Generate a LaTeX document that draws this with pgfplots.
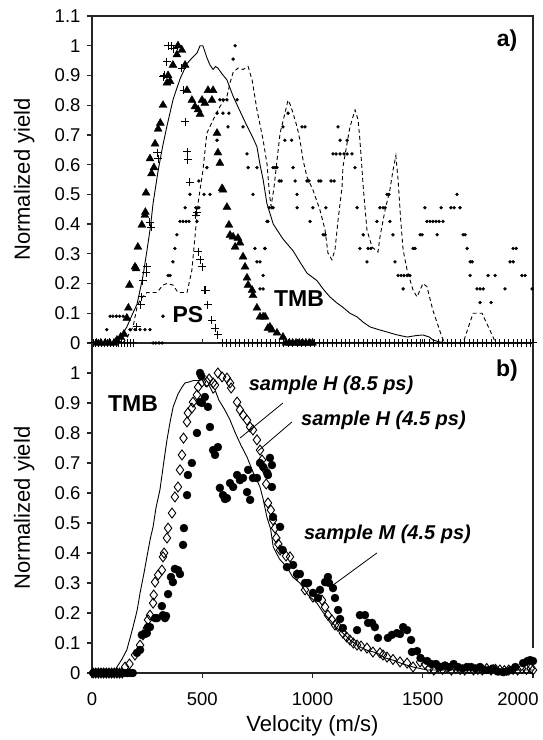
\documentclass[border=0pt]{standalone}
\usepackage{pgfplots}
\pgfplotsset{compat=1.18}
\usepackage{fontspec}
\setmainfont{Liberation Sans}

\pgfplotsset{
  base/.style={
    scale only axis, width=441pt, xmin=0, xmax=2000, ymin=0, ymax=1.1,
    clip=false,
    axis line style={line width=1.2pt, black!85},
    tick style={line width=1.2pt, black!85},
    major tick length=5pt,
    tick align=outside,
    tick label style={font=\fontsize{18.5}{20}\selectfont},
    label style={font=\fontsize{22}{24}\selectfont},
    /pgf/number format/assume math mode=true,
    ylabel={Normalized yield},
    ylabel style={at={(axis description cs:-0.154,0.5)}, anchor=center},
    yticklabel style={xshift=-3pt},
  },
  dline/.style={black, line width=0.9pt, mark=none},
}
\tikzset{
  ann/.style={font=\fontsize{20}{22}\selectfont\bfseries\itshape},
  lab/.style={font=\fontsize{23}{25}\selectfont\bfseries},
}

\begin{document}
\begin{tikzpicture}[x=1pt,y=1pt]
\useasboundingbox (0,0) rectangle (543,740);

% ---------------- top panel ----------------
\begin{axis}[base, at={(92pt,397pt)}, anchor=south west, height=327pt,
  xtick={0,500,1000,1500,2000},
  ytick={0,0.1,0.2,0.3,0.4,0.5,0.6,0.7,0.8,0.9,1,1.1},
  yticklabels={0,0.1,0.2,0.3,0.4,0.5,0.6,0.7,0.8,0.9,1,1.1},
  xticklabels={}, xtick style={draw=none}, ytick pos=left]

% small dots
\addplot[only marks, mark=*, mark size=1.5pt, black] coordinates {
(67,0.045) (82,0.09) (95,0.09) (110,0.09) (125,0.09) (141,0.09)
(172,0.045) (195,0.045) (218,0.045) (240,0.045) (263,0.045)
(277,0) (290,0) (304,0) (318,0) (322,0.09)
(345,0.227) (354,0.227) (367,0.273) (376,0.318) (385,0.364)
(399,0.409) (413,0.409) (427,0.409) (440,0.409) (476,0.409)
(422,0.455) (471,0.455) (485,0.455)
(444,0.5) (508,0.5) (535,0.5) (485,0.545) (521,0.59)
(567,0.682) (567,0.773) (594,0.773) (621,0.773)
(580,0.818) (594,0.818) (612,0.818) (617,0.727)
(640,0.955) (649,1.0) (658,0.818) (685,0.727) (703,0.636) (708,0.59) (748,0.59)
(730,0.5) (739,0.318) (785,0.318) (748,0.273) (762,0.273) (776,0.227) (762,0.182) (776,0.182)
(783,0.318) (798,0.409) (794,0.409) (803,0.455) (816,0.455) (821,0.455)
(821,0.59) (830,0.59) (839,0.59) (849,0.545) (858,0.545)
(866,0.727) (875,0.682) (905,0.682) (889,0.773) (912,0.59) (921,0.545) (930,0.5) (930,0.455)
(952,0.727) (966,0.727) (975,0.545) (984,0.545) (1029,0.545) (1038,0.545) (1084,0.545) (1098,0.545)
(989,0.409) (1002,0.455) (1061,0.455) (1048,0.364) (1057,0.364)
(1093,0.636) (1107,0.636) (1125,0.636) (1143,0.636) (1157,0.636) (1179,0.636)
(1116,0.727) (1125,0.682) (1157,0.682) (1193,0.59) (1202,0.455) (1215,0.318) (1230,0.364)
(1247,0.273) (1252,0.318) (1265,0.318) (1292,0.409)
(1306,0.455) (1320,0.455) (1329,0.455) (1338,0.5) (1347,0.5) (1351,0.409) (1365,0.364) (1374,0.273)
(1388,0.227) (1402,0.227) (1415,0.227) (1429,0.227) (1442,0.227) (1411,0.182)
(1456,0.318) (1465,0.318) (1488,0.364) (1497,0.364) (1510,0.455)
(1519,0.409) (1533,0.409) (1546,0.409) (1560,0.409) (1574,0.409) (1592,0.409)
(1565,0.364) (1583,0.455) (1628,0.455) (1642,0.455) (1655,0.5) (1669,0.455)
(1683,0.364) (1692,0.364) (1701,0.318) (1715,0.273) (1724,0.273) (1715,0.227)
(1746,0.182) (1760,0.182) (1774,0.182) (1760,0.136) (1796,0.227) (1828,0.227) (1810,0.136)
(1873,0.182) (1896,0.273) (1910,0.273) (1910,0.318) (1924,0.318) (1950,0.227) (1964,0.227) (1996,0.182)
};

% plus signs (PS)
\addplot[only marks, mark=+, mark size=4pt, black, line width=1pt] coordinates {
(5,0) (18,0) (31,0) (44,0) (57,0) (70,0) (83,0) (96,0) (109,0) (122,0) (135,0) (148,0) (161,0) (174,0) (187,0)
(204,0.054) (222,0.128) (226,0.155) (231,0.21) (245,0.236) (249,0.256) (263,0.407) (268,0.39)
(295,0.64) (300,0.62) (322,0.895) (327,0.9) (340,0.946) (346,1.0) (360,1.0) (368,0.99) (390,1.0)
(408,0.925) (415,0.85) (422,0.745) (431,0.643) (435,0.616) (444,0.54) (471,0.43) (476,0.44)
(481,0.307) (490,0.28) (499,0.256) (512,0.178) (517,0.178) (526,0.128) (544,0.077) (558,0.05) (571,0.027)
(590,0) (610,0) (630,0) (650,0) (670,0) (690,0) (710,0) (730,0) (750,0) (770,0) (790,0) (810,0)
(830,0) (850,0) (870,0) (890,0) (910,0) (930,0) (950,0) (970,0) (990,0) (1010,0) (1030,0) (1050,0)
(1070,0) (1090,0) (1110,0) (1130,0) (1150,0) (1170,0) (1190,0) (1210,0) (1230,0) (1250,0) (1270,0)
(1290,0) (1310,0) (1330,0) (1350,0) (1370,0) (1390,0) (1410,0) (1430,0) (1450,0) (1470,0) (1490,0)
(1510,0) (1530,0) (1550,0) (1570,0) (1590,0) (1610,0) (1630,0) (1650,0) (1670,0) (1690,0) (1710,0)
(1730,0) (1750,0) (1770,0) (1790,0) (1810,0) (1830,0) (1850,0) (1870,0) (1890,0) (1910,0) (1930,0)
(1950,0) (1970,0) (1990,0) (2000,0)
};

% filled triangles
\addplot[only marks, mark=triangle*, mark size=4.6pt, black] coordinates {
(20,0) (40,0) (60,0) (80,0) (100,0) (113,0.01) (130,0.02) (145,0.03)
(158,0.084) (165,0.118) (170,0.195) (195,0.256) (200,0.25) (208,0.323) (226,0.397) (240,0.43) (242,0.44)
(245,0.505) (263,0.62) (270,0.57) (281,0.59) (286,0.67) (300,0.72) (310,0.74) (322,0.80)
(340,0.875) (345,0.9) (354,0.88) (367,0.935) (385,0.97) (390,1.0) (408,0.985) (422,0.935)
(431,0.85) (453,0.817) (467,0.795) (481,0.785) (490,0.77) (499,0.817) (512,0.807) (526,0.85)
(544,0.817) (549,0.85) (567,0.706) (571,0.64) (580,0.605) (590,0.52) (594,0.515) (612,0.457)
(621,0.397) (626,0.363) (640,0.357) (649,0.323) (662,0.353) (671,0.337) (685,0.29) (694,0.256)
(703,0.219) (708,0.195) (726,0.178) (730,0.16) (748,0.118) (762,0.088) (776,0.088) (785,0.088)
(798,0.05) (807,0.054) (816,0.044) (839,0.034) (866,0.02)
(880,0) (895,0) (910,0) (925,0) (940,0) (955,0) (970,0) (985,0) (1000,0)
};

% TMB solid line
\addplot[dline] coordinates {
(90,0) (130,0.02) (158,0.054) (185,0.10) (204,0.13) (230,0.22) (249,0.31) (265,0.39) (277,0.47)
(300,0.58) (320,0.66) (340,0.73) (368,0.82) (400,0.89) (431,0.94) (455,0.96) (476,0.975)
(490,1.0) (503,1.0) (521,0.96) (535,0.935) (549,0.92) (560,0.93) (571,0.925) (590,0.905)
(612,0.885) (640,0.83) (671,0.78) (703,0.73) (730,0.69) (748,0.66) (762,0.60) (776,0.55)
(793,0.47) (822,0.40) (866,0.35) (912,0.31) (945,0.27) (975,0.235) (1020,0.21) (1050,0.18)
(1079,0.155) (1110,0.135) (1138,0.12) (1170,0.10) (1202,0.088) (1230,0.07) (1261,0.054)
(1300,0.045) (1338,0.037) (1380,0.028) (1429,0.02) (1470,0.025) (1501,0.027) (1530,0.02)
(1546,0.01) (1580,0.003) (1650,0) (2000,0)
};

% dashed line
\addplot[dline, dash pattern=on 4pt off 3pt] coordinates {
(140,0) (160,0.02) (186,0.054) (204,0.12) (218,0.145) (249,0.17) (295,0.17) (322,0.195)
(340,0.2) (367,0.195) (390,0.17) (431,0.17) (453,0.245) (467,0.357) (481,0.47) (490,0.515)
(503,0.58) (521,0.706) (549,0.75) (580,0.795) (612,0.83) (626,0.875) (640,0.91) (662,0.925)
(685,0.92) (708,0.93) (726,0.885) (748,0.785) (776,0.683) (794,0.60) (805,0.5) (812,0.46)
(825,0.52) (839,0.615) (853,0.706) (875,0.773) (889,0.817) (900,0.80) (912,0.773) (930,0.727)
(943,0.683) (957,0.616) (975,0.558) (1002,0.515) (1034,0.447) (1057,0.38) (1070,0.303)
(1088,0.28) (1102,0.313) (1116,0.414) (1134,0.525) (1138,0.592) (1157,0.673) (1170,0.727)
(1193,0.784) (1207,0.75) (1215,0.683) (1224,0.59) (1230,0.525) (1247,0.38) (1270,0.323)
(1297,0.306) (1306,0.357) (1329,0.447) (1351,0.515) (1365,0.58) (1378,0.63) (1388,0.55)
(1400,0.414) (1411,0.313) (1429,0.245) (1456,0.178) (1474,0.155) (1501,0.2) (1519,0.19)
(1546,0.11) (1587,0.02) (1600,0) (1683,0) (1728,0.1) (1769,0.1) (1819,0.02) (1830,0) (2000,0)
};

% inward x ticks of the top panel
\pgfplotsinvokeforeach{500,1000,1500}{
  \draw[line width=1.2pt, black!85] (axis cs:#1,0) -- ++(0,4pt);
}
\node[lab] at (axis cs:1882,1.019) {a)};
\node[lab] at (axis cs:939,0.151) {TMB};
\node[lab] at (axis cs:435,0.094) {PS};
\end{axis}

% ---------------- bottom panel ----------------
\begin{axis}[base, at={(92pt,67pt)}, anchor=south west, height=330pt,
  ytick={0,0.1,0.2,0.3,0.4,0.5,0.6,0.7,0.8,0.9,1},
  yticklabels={0,0.1,0.2,0.3,0.4,0.5,0.6,0.7,0.8,0.9,1},
  axis x line*=bottom, axis y line*=left,
  xtick={0,500,1000,1500},
  xticklabels={0,500,1000,1500},
  extra x ticks={2000}, extra x tick labels={2000},
  extra x tick style={xticklabel style={xshift=-15pt}},
  xticklabel style={yshift=-11pt},
  xlabel={Velocity (m/s)},
  xlabel style={at={(axis description cs:0.5,-0.16)}, anchor=center}]

% open diamonds
\addplot[only marks, mark=diamond, mark size=5pt, black, line width=0.9pt, mark options={fill=white}] coordinates {
(5,0) (17,0) (29,0) (41,0) (53,0) (65,0) (77,0) (89,0) (101,0) (113,0) (125,0) (137,0)
(150,0.02) (170,0.03) (195,0.06) (218,0.093) (231,0.127) (249,0.15) (254,0.177) (263,0.193)
(277,0.233) (280,0.26) (286,0.303) (300,0.327) (317,0.343) (322,0.387) (327,0.4) (340,0.45)
(345,0.483) (363,0.533) (376,0.587) (390,0.62) (399,0.677) (408,0.727) (415,0.783) (431,0.837)
(435,0.867) (453,0.883) (458,0.903) (476,0.927) (481,0.953) (499,0.97) (521,0.97) (531,0.98)
(549,0.967) (558,0.96) (571,1.0) (590,0.987) (612,0.983) (626,0.967) (631,0.95) (658,0.903)
(671,0.877) (685,0.86) (703,0.843) (717,0.82) (730,0.81) (748,0.777) (762,0.743) (771,0.71)
(785,0.677) (790,0.63) (798,0.567) (811,0.543) (821,0.51) (830,0.483) (836,0.45) (845,0.43)
(853,0.41) (880,0.39) (898,0.387) (930,0.327) (966,0.277) (1002,0.253) (1043,0.243) (1057,0.22)
(1070,0.193) (1088,0.177) (1102,0.16) (1116,0.155) (1138,0.133) (1155,0.12) (1170,0.11)
(1185,0.1) (1202,0.093) (1220,0.09) (1247,0.083) (1274,0.07) (1306,0.067) (1320,0.06)
(1338,0.053) (1365,0.045) (1397,0.037) (1429,0.033) (1456,0.02) (1488,0.037) (1510,0.03)
(1530,0.015) (1550,0.01) (1570,0.02) (1590,0.012) (1610,0.018) (1630,0.01) (1650,0.015)
(1670,0.012) (1690,0.01) (1710,0.015) (1730,0.01) (1750,0.012) (1770,0.01) (1790,0.015)
(1810,0.01) (1830,0.012) (1850,0.01) (1870,0.008) (1890,0.01) (1910,0.012) (1930,0.01)
(1950,0.015) (1970,0.012) (1990,0.015) (2000,0.01)
};

% filled circles
\addplot[only marks, mark=*, mark size=4pt, black] coordinates {
(5,0) (17,0) (29,0) (41,0) (53,0) (65,0) (77,0) (89,0) (101,0) (113,0) (125,0) (137,0) (149,0) (161,0) (173,0) (185,0)
(204,0.067) (218,0.077) (226,0.127) (240,0.13) (249,0.133) (254,0.153) (263,0.153) (286,0.183)
(295,0.183) (322,0.193) (317,0.223) (331,0.183) (336,0.19) (345,0.263) (358,0.32) (367,0.303)
(376,0.347) (390,0.343) (399,0.33) (413,0.427) (417,0.483) (431,0.593) (435,0.66) (453,0.7)
(476,0.8) (490,0.903) (499,0.9) (512,0.92) (526,0.887) (490,1.0) (496,0.99) (535,0.82)
(549,0.743) (571,0.753) (558,0.727) (580,0.617) (594,0.593) (603,0.58) (612,0.583) (626,0.633)
(640,0.62) (658,0.66) (671,0.643) (685,0.65) (703,0.603) (717,0.577) (708,0.677) (730,0.65)
(748,0.65) (762,0.7) (776,0.687) (794,0.667) (807,0.717) (816,0.693) (798,0.66) (816,0.62)
(821,0.52) (853,0.487) (865,0.41) (884,0.353) (912,0.36) (930,0.33) (943,0.33) (966,0.3)
(980,0.3) (1002,0.267) (1025,0.25) (1034,0.277) (1057,0.303) (1070,0.32) (1075,0.3) (1093,0.283)
(1102,0.25) (1116,0.21) (1125,0.18) (1138,0.15) (1202,0.143) (1215,0.193) (1238,0.193)
(1252,0.167) (1270,0.167) (1283,0.153) (1297,0.117) (1342,0.117) (1360,0.127) (1383,0.133)
(1397,0.13) (1411,0.153) (1429,0.143) (1447,0.11) (1451,0.07) (1474,0.073) (1490,0.05)
(1520,0.04) (1540,0.03) (1560,0.03) (1580,0.02) (1600,0.025) (1620,0.02) (1640,0.03)
(1660,0.02) (1680,0.015) (1700,0.02) (1720,0.02) (1740,0.015) (1760,0.02) (1780,0.01)
(1800,0.01) (1820,0.015) (1840,0.005) (1864,0.003) (1880,0.005) (1900,0.01) (1920,0.02)
(1955,0.033) (1975,0.04) (1987,0.043) (2000,0.04)
};

% TMB solid line
\addplot[dline] coordinates {
(100,0.003) (113,0.02) (135,0.045) (158,0.077) (186,0.153) (205,0.21) (218,0.267) (235,0.33)
(249,0.387) (265,0.45) (277,0.487) (290,0.55) (308,0.61) (325,0.70) (340,0.777) (355,0.84)
(368,0.887) (390,0.93) (410,0.955) (422,0.967) (440,0.97) (460,0.975) (481,0.975) (500,0.977)
(515,0.955) (530,0.96) (549,0.933) (560,0.94) (575,0.91) (600,0.88) (625,0.845) (650,0.8)
(675,0.76) (703,0.72) (730,0.67) (762,0.62) (776,0.58) (793,0.52) (810,0.48) (822,0.42)
(850,0.38) (884,0.353) (910,0.32) (943,0.3) (980,0.26) (1020,0.233) (1050,0.2) (1079,0.177)
(1110,0.15) (1138,0.133) (1170,0.11) (1215,0.087) (1250,0.075) (1292,0.067) (1330,0.05)
(1365,0.043) (1410,0.03) (1456,0.02) (1520,0.01) (1600,0.01) (1700,0.012) (1800,0.008)
(1900,0.01) (2000,0.01)
};

\draw[line width=1.2pt, black!85] (axis cs:2000,1.1) -- (axis cs:2000,0.085);
\draw[line width=0.8pt] (axis cs:866,0.9) -- (axis cs:671,0.783);
\draw[line width=0.8pt] (axis cs:907,0.837) -- (axis cs:753,0.74);
\draw[line width=0.8pt] (axis cs:1292,0.4) -- (axis cs:1093,0.293);
\node[lab] at (axis cs:1882,1.007) {b)};
\node[lab] at (axis cs:186,0.897) {TMB};
\node[ann] at (axis cs:1084,0.96) {sample H (8.5 ps)};
\node[ann] at (axis cs:1322,0.843) {sample H (4.5 ps)};
\node[ann] at (axis cs:1340,0.463) {sample M (4.5 ps)};
\end{axis}
\end{tikzpicture}
\end{document}
